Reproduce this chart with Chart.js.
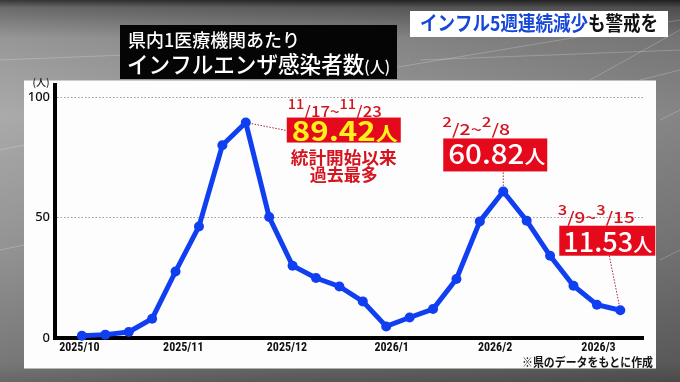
<!DOCTYPE html>
<html><head><meta charset="utf-8">
<script src="https://cdn.jsdelivr.net/npm/chart.js@4"></script>
<style>html,body{margin:0;padding:0;background:#888;overflow:hidden}#wrap{width:680px;height:382px;position:relative}</style>
</head><body><div id="wrap"><canvas id="c" width="680" height="382"></canvas></div>
<script>
// ---- data ----
const weeks = ['9/29〜10/5','10/6〜10/12','10/13〜10/19','10/20〜10/26','10/27〜11/2','11/3〜11/9',
  '11/10〜11/16','11/17〜11/23','11/24〜11/30','12/1〜12/7','12/8〜12/14','12/15〜12/21',
  '12/22〜12/28','12/29〜1/4','1/5〜1/11','1/12〜1/18','1/19〜1/25','1/26〜2/1',
  '2/2〜2/8','2/9〜2/15','2/16〜2/22','2/23〜3/1','3/2〜3/8','3/9〜3/15'];
const cases = [0.9, 1.4, 2.5, 8.0, 27.6, 46.3, 80.0, 89.42, 50.2, 30.0, 24.9, 21.4,
  15.2, 4.8, 8.5, 12.0, 24.5, 48.4, 60.82, 48.7, 34.1, 21.7, 13.8, 11.53];
const monthLabels = ['2025/10','2025/11','2025/12','2026/1','2026/2','2026/3'];
const monthTickPos = [-0.11, 4.33, 8.76, 13.23, 17.65, 22.07];
const yTicks = [0, 50, 100];
const yUnit = '(人)';
const titleLine1 = '県内1医療機関あたり';
const titleLine2 = 'インフルエンザ感染者数';
const headlineBlue = 'インフル5週連続減少';
const headlineBlack = 'も警戒を';
const footnote = '※県のデータをもとに作成';
const peakCallout = {index: 7, date: ['11','/17~','11','/23'], value: '89.42', unit: '人', note: ['統計開始以来','過去最多']};
const secondCallout = {index: 18, date: ['2','/2~','2','/8'], value: '60.82', unit: '人'};
const latestCallout = {index: 23, date: ['3','/9~','3','/15'], value: '11.53', unit: '人'};

// ---- helpers ----
const JP = '"Noto Sans CJK JP","Noto Sans",sans-serif';
function runs(ctx, parts, x, y, targetW, align) {
  let w = 0;
  parts.forEach(p => { ctx.font = p.font; p.w = ctx.measureText(p.t).width; w += p.w; });
  const sx = targetW ? targetW / w : 1;
  const tw = w * sx;
  const x0 = align === 'center' ? x - tw / 2 : align === 'right' ? x - tw : x;
  ctx.save();
  ctx.translate(x0, y); ctx.scale(sx, 1);
  ctx.textBaseline = 'alphabetic'; ctx.textAlign = 'left';
  let cx = 0;
  parts.forEach(p => { ctx.font = p.font; ctx.fillStyle = p.color; ctx.fillText(p.t, cx, p.dy || 0); cx += p.w; });
  ctx.restore();
}
function dateParts(d, main, sup, color) {
  return d.map((t, i) => i % 2 === 0
    ? {t, font: `500 ${sup}px ${JP}`, color, dy: -8}
    : {t, font: `500 ${main}px ${JP}`, color});
}
function dotted(ctx, x1, y1, x2, y2) {
  ctx.save();
  ctx.strokeStyle = '#a8283a'; ctx.lineWidth = 1; ctx.setLineDash([1.5, 1.5]);
  ctx.beginPath(); ctx.moveTo(x1, y1); ctx.lineTo(x2, y2); ctx.stroke();
  ctx.restore();
}
const RED = '#e5091c', RED_TXT = '#d4141f';

const backdrop = {
  id: 'backdrop',
  beforeDraw(chart) {
    const ctx = chart.ctx, W = chart.width, H = chart.height;
    ctx.save();
    let g = ctx.createLinearGradient(0, 0, 0, H);
    g.addColorStop(0, '#262626'); g.addColorStop(0.02, '#5e5e5e'); g.addColorStop(0.1, '#8e8e8e');
    g.addColorStop(0.3, '#a3a3a3'); g.addColorStop(0.65, '#8a8a8a'); g.addColorStop(0.95, '#6c6c6c'); g.addColorStop(1, '#5a5a5a');
    ctx.fillStyle = g; ctx.fillRect(0, 0, W, H);
    let h = ctx.createLinearGradient(0, 0, W, 0);
    h.addColorStop(0, 'rgba(255,255,255,0.08)'); h.addColorStop(0.5, 'rgba(0,0,0,0.05)'); h.addColorStop(1, 'rgba(0,0,0,0.18)');
    ctx.fillStyle = h; ctx.fillRect(0, 0, W, H);
    ctx.strokeStyle = 'rgba(255,255,255,0.22)'; ctx.lineWidth = 1;
    [[380,70,680,20],[420,60,680,50],[0,60,200,52],[590,80,680,30],[0,150,24,145],[640,80,680,70],[660,120,680,110],[660,260,680,250],[0,250,24,245]].forEach(l => {
      ctx.beginPath(); ctx.moveTo(l[0], l[1]); ctx.lineTo(l[2], l[3]); ctx.stroke();
    });
    // white panel
    ctx.fillStyle = '#fdfdfd'; ctx.fillRect(24, 80.5, 632, 288);
    // title box
    ctx.fillStyle = '#050505'; ctx.fillRect(120, 25, 277, 54);
    runs(ctx, [{t: titleLine1, font: `500 18px ${JP}`, color: '#fff'}], 128, 47, 172);
    runs(ctx, [{t: titleLine2, font: `500 23px ${JP}`, color: '#fff'},
               {t: '(人)', font: `500 16px ${JP}`, color: '#fff'}], 127, 73, 263);
    // headline box
    ctx.fillStyle = '#ffffff'; ctx.fillRect(410, 11, 258, 26);
    runs(ctx, [{t: headlineBlue, font: `bold 20px ${JP}`, color: '#1747d6'},
               {t: headlineBlack, font: `bold 20px ${JP}`, color: '#111'}], 420, 31, 238);
    // footnote
    runs(ctx, [{t: footnote, font: `bold 12px ${JP}`, color: '#151515'}], 653, 367, 131, 'right');
    ctx.restore();
  }
};

const callouts = {
  id: 'callouts',
  beforeDatasetsDraw(chart) {
    const ctx = chart.ctx, pts = chart.getDatasetMeta(0).data;
    const a = pts[peakCallout.index], b = pts[secondCallout.index], c = pts[latestCallout.index];
    dotted(ctx, a.x, a.y, a.x + 41, a.y + 8);
    dotted(ctx, b.x, b.y - 19, b.x, b.y);
    dotted(ctx, c.x - 11, c.y - 54.5, c.x, c.y);
    // y unit label
    const ys = chart.scales.y;
    runs(ctx, [{t: yUnit, font: `500 10px ${JP}`, color: '#222'}], 41, ys.top + 1, null, 'center');
  },
  afterDatasetsDraw(chart) {
    const ctx = chart.ctx, pts = chart.getDatasetMeta(0).data;
    ctx.save();
    // peak
    let p = pts[peakCallout.index];
    runs(ctx, dateParts(peakCallout.date, 15, 13, RED_TXT), p.x + 89, p.y - 6, 94, 'center');
    ctx.fillStyle = RED; ctx.fillRect(p.x + 41, p.y - 5, 114, 25);
    runs(ctx, [{t: peakCallout.value, font: `bold 27px ${JP}`, color: '#fff21a'},
               {t: peakCallout.unit, font: `bold 19px ${JP}`, color: '#fff21a'}], p.x + 46, p.y + 18, 106);
    runs(ctx, [{t: peakCallout.note[0], font: `bold 17px ${JP}`, color: RED_TXT}], p.x + 98, p.y + 41, 106, 'center');
    runs(ctx, [{t: peakCallout.note[1], font: `bold 17px ${JP}`, color: RED_TXT}], p.x + 98, p.y + 58, 68, 'center');
    // second peak
    p = pts[secondCallout.index];
    runs(ctx, dateParts(secondCallout.date, 15, 13, RED_TXT), p.x - 27, p.y - 56, 68, 'center');
    ctx.fillStyle = RED; ctx.fillRect(p.x - 60, p.y - 53, 104, 33);
    runs(ctx, [{t: secondCallout.value, font: `500 27px ${JP}`, color: '#fff'},
               {t: secondCallout.unit, font: `500 19px ${JP}`, color: '#fff'}], p.x - 55, p.y - 27, 97);
    // latest
    p = pts[latestCallout.index];
    runs(ctx, dateParts(latestCallout.date, 15, 13, RED_TXT), p.x - 24, p.y - 87.5, 77, 'center');
    ctx.fillStyle = RED; ctx.fillRect(p.x - 61, p.y - 84.5, 96, 30);
    runs(ctx, [{t: latestCallout.value, font: `500 27px ${JP}`, color: '#fff'},
               {t: latestCallout.unit, font: `500 19px ${JP}`, color: '#fff'}], p.x - 57, p.y - 58.5, 89);
    ctx.restore();
  }
};

new Chart(document.getElementById('c'), {
  type: 'line',
  data: {
    labels: weeks,
    datasets: [{
      data: cases.map((v, i) => ({x: i, y: v})),
      borderColor: '#0f3ff0', backgroundColor: '#0f3ff0',
      borderWidth: 5, pointRadius: 5, pointBorderWidth: 0, pointBackgroundColor: '#0f3ff0',
      tension: 0, fill: false, clip: false
    }]
  },
  options: {
    responsive: false, animation: false, devicePixelRatio: 1,
    layout: {padding: {left: 0, right: 37, top: 85, bottom: 0}},
    plugins: {legend: {display: false}, tooltip: {enabled: false}},
    events: [],
    scales: {
      x: {
        type: 'linear', min: -1.15, max: 23.97,
        afterBuildTicks: s => { s.ticks = monthTickPos.map(v => ({value: v})); },
        afterFit: s => { s.height = 44; },
        grid: {display: true, drawOnChartArea: false, drawTicks: false, color: 'transparent'},
        border: {display: true, color: '#000', width: 4},
        ticks: {autoSkip: false, maxRotation: 0, padding: 3, color: '#111',
          font: {family: '"Liberation Sans Narrow","Roboto Condensed","Liberation Sans",sans-serif', size: 12, weight: 'bold'},
          callback: (v, i) => monthLabels[i]}
      },
      y: {
        min: 0, max: 105,
        afterBuildTicks: s => { s.ticks = yTicks.map(v => ({value: v})); },
        afterFit: s => { s.width = 55; },
        grid: {display: true, drawTicks: false, lineWidth: 1,
          color: c => (c.tick && c.tick.value === 0) ? 'transparent' : '#9a9a9a'},
        border: {display: true, color: '#000', width: 4, dash: [1.5, 2]},
        ticks: {padding: 5, color: '#111', font: {family: '"Noto Sans",sans-serif', size: 13, weight: '500'}}
      }
    }
  },
  plugins: [backdrop, callouts]
});
</script>
</body></html>
